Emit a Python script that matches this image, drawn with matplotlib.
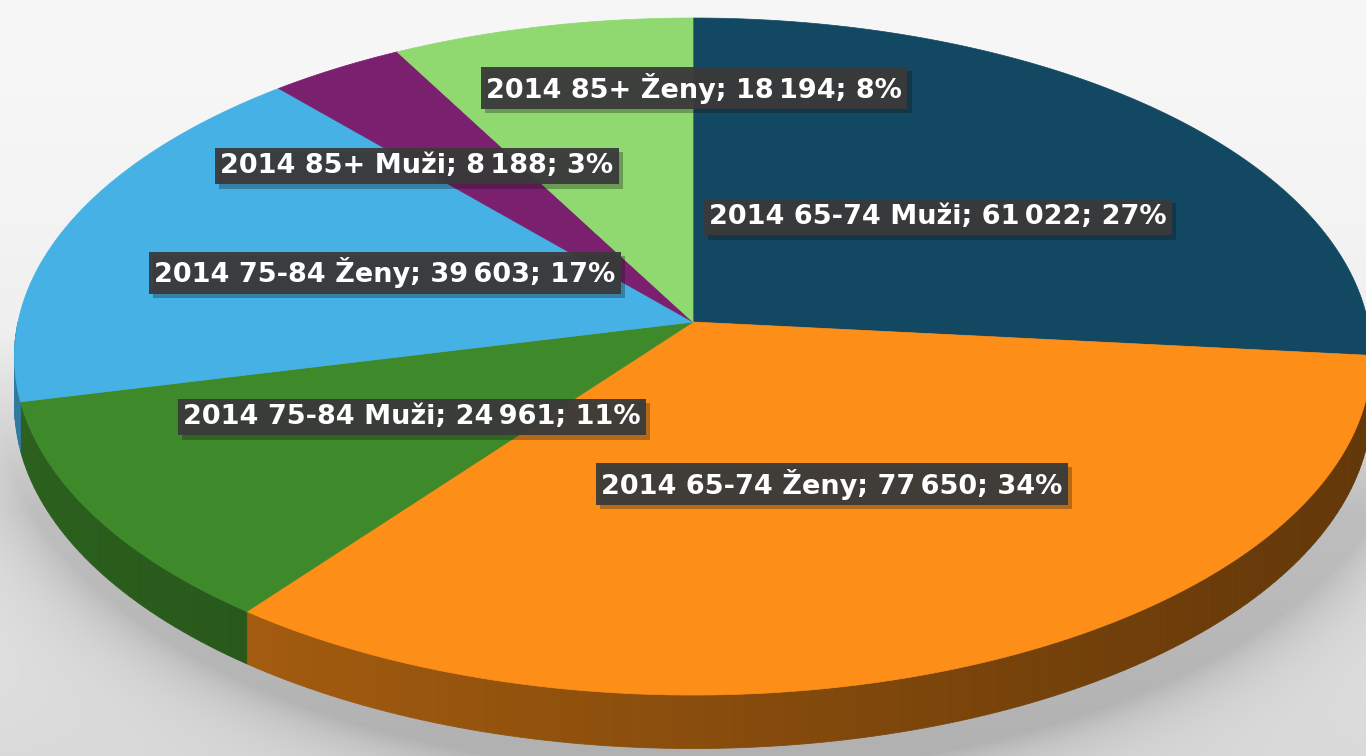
import numpy as np
import matplotlib.pyplot as plt
import matplotlib.patheffects as pe
from matplotlib.patches import Polygon
from matplotlib.colors import to_rgb

# data (Excel 3D pie, first slice starts at 12 o'clock, clockwise)
ages = ['65-74', '65-74', '75-84', '75-84', '85+', '85+']
sexes = ['Muži', 'Ženy', 'Muži', 'Ženy', 'Muži', 'Ženy']
values = [61022, 77650, 24961, 39603, 8188, 18194]
colors = ['#134862', '#FD8E17', '#3E8A2A', '#45B1E4', '#7B1F6F', '#8FD970']

# label box centres in pixels (layout only)
label_pos = [(938, 216), (832, 483), (412, 416), (385, 272), (417, 165), (694, 87)]

W, H = 1366, 756
fig = plt.figure(figsize=(13.66, 7.56), dpi=100)
ax = fig.add_axes([0, 0, 1, 1])
ax.set_xlim(0, W)
ax.set_ylim(H, 0)
ax.axis('off')

# perspective ellipse parameters
CX, CY = 693, 322
A, B = 675, 335
K = 0.102
DEPTH = 48


def proj(theta, drop=0.0):
    t = np.radians(theta)
    u = np.sin(t)
    v = np.cos(t)
    s = 1.0 / (1.0 + K * v)
    return CX + A * u * s, CY - B * v * s + drop * s


# background with soft shadow under the pie
yy, xx = np.mgrid[0:H, 0:W].astype(float)
bg = 247 - 28 * (yy / H) ** 1.6
r = np.sqrt(((xx - 705) / 705) ** 2 + ((yy - 400) / 372) ** 2)
shade = 42 * np.exp(-np.clip(r - 1, 0, None) / 0.08) * np.clip((yy - 330) / 180, 0, 1)
bg = np.clip(bg - shade, 0, 255) / 255.0
ax.imshow(np.dstack([bg, bg, bg]), extent=(0, W, H, 0), zorder=0, aspect='auto')

total = sum(values)
angles = np.cumsum([0] + [v / total * 360 for v in values])

# percentages rounded so that they add up to 100 (as Excel does)
raw = [v / total * 100 for v in values]
pcts = [int(p) for p in raw]
order = sorted(range(len(raw)), key=lambda i: raw[i] - pcts[i], reverse=True)
for i in order[:100 - sum(pcts)]:
    pcts[i] += 1

# side walls (front half only), shaded darker towards the right
for i, c in enumerate(colors):
    a0, a1 = max(angles[i], 90), min(angles[i + 1], 270)
    if a1 <= a0:
        continue
    steps = np.linspace(a0, a1, max(int(a1 - a0), 2) + 1)
    base = np.array(to_rgb(c))
    for t0, t1 in zip(steps[:-1], steps[1:]):
        x0, y0 = proj(t0)
        x1, y1 = proj(t1)
        x2, y2 = proj(t1, DEPTH)
        x3, y3 = proj(t0, DEPTH)
        f = 0.70 - 0.31 * ((x0 + x1) / 2) / W
        ax.add_patch(Polygon([(x0, y0), (x1, y1), (x2, y2), (x3, y3)],
                             closed=True, fc=base * f, ec=base * f, lw=0.6, zorder=1))

# top faces
for i, c in enumerate(colors):
    th = np.linspace(angles[i], angles[i + 1], 200)
    xs, ys = proj(th)
    pts = [(CX, CY)] + list(zip(xs, ys))
    ax.add_patch(Polygon(pts, closed=True, fc=c, ec=c, lw=0.5, zorder=2))

# data labels
for i in range(len(values)):
    txt = f"2014 {ages[i]} {sexes[i]}; {values[i]:,}; {pcts[i]}%".replace(',', '\u2009')
    t = ax.text(label_pos[i][0], label_pos[i][1] + 1, txt, ha='center', va='center',
                color='white', fontsize=19.5, fontweight='bold',
                family='DejaVu Sans', zorder=5,
                bbox=dict(boxstyle='square,pad=0.2', fc='#3a3a3a', ec='none', alpha=0.95))
    t.get_bbox_patch().set_path_effects([pe.SimplePatchShadow(offset=(3, -3), alpha=0.3),
                                         pe.Normal()])

fig.savefig('out.png', dpi=100)
